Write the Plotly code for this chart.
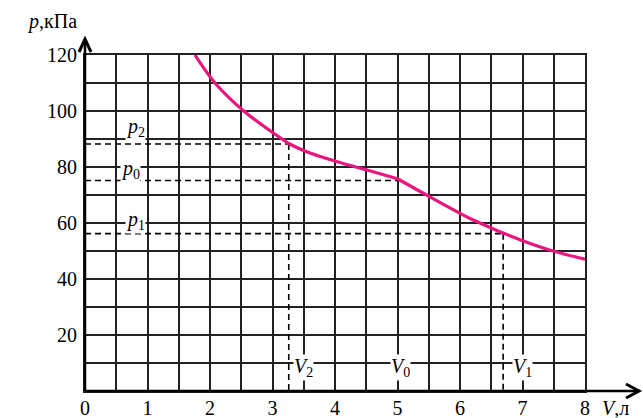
import plotly.graph_objects as go

# Curve data
V_left = [1.76, 2.08, 2.54, 3.15, 3.26, 3.6, 4.08, 4.5, 5.0]
p_left = [120, 110, 100, 90, 88.4, 85.0, 81.6, 79.0, 75.8]
V_right = [5.0, 5.52, 6.16, 6.32, 6.69, 7.0, 7.49, 8.0]
p_right = [75.8, 69.3, 61.6, 60.0, 56.4, 53.7, 50.0, 47.1]

# Marked states
state_names = ["2", "0", "1"]
V_states = [3.26, 5.0, 6.69]
p_states = [88.2, 75.2, 56.2]
dashed_vertical = [True, False, True]

x_ticks = [0, 1, 2, 3, 4, 5, 6, 7, 8]
y_ticks = [20, 40, 60, 80, 100, 120]

PINK = "#e8177d"
GRID = "#222222"
FONT = "Liberation Serif, DejaVu Serif, serif"

fig = go.Figure()

for name, V, p, vert in zip(state_names, V_states, p_states, dashed_vertical):
    fig.add_trace(go.Scatter(x=[0, V], y=[p, p], mode="lines",
                             line=dict(color="black", width=1.6, dash="6px,4px"),
                             hoverinfo="skip", showlegend=False))
    if vert:
        fig.add_trace(go.Scatter(x=[V, V], y=[p, 0], mode="lines",
                                 line=dict(color="black", width=1.6, dash="6px,4px"),
                                 hoverinfo="skip", showlegend=False))

fig.add_trace(go.Scatter(x=V_left, y=p_left, mode="lines", line_shape="spline",
                         line=dict(color=PINK, width=3.2), showlegend=False))
fig.add_trace(go.Scatter(x=V_right, y=p_right, mode="lines", line_shape="spline",
                         line=dict(color=PINK, width=3.2), showlegend=False))

# labels p_i on the left, V_i at the bottom
p_label_x = [0.8, 0.72, 0.8]
p_label_dy = [6.0, 3.8, 4.8]
for name, p, lx, dy in zip(state_names, p_states, p_label_x, p_label_dy):
    fig.add_annotation(x=lx, y=p + dy, text=f"<i>p</i><sub>{name}</sub>", showarrow=False,
                       font=dict(family=FONT, size=20, color="black"), bgcolor="white",
                       borderpad=0)
V_label_x = [3.5, 5.04, 7.0]
for name, V, lx in zip(state_names, V_states, V_label_x):
    fig.add_annotation(x=lx, y=8.5, text=f"<i>V</i><sub>{name}</sub>", showarrow=False,
                       font=dict(family=FONT, size=20, color="black"), bgcolor="white",
                       borderpad=0)

# axis titles
fig.add_annotation(xref="paper", yref="paper", x=-0.012, y=1.1, xanchor="right", yanchor="middle",
                   text="<i>p</i>,кПа", showarrow=False, font=dict(family=FONT, size=20, color="black"))
fig.add_annotation(xref="paper", yref="paper", x=1.03, y=-0.05, xanchor="left", yanchor="middle",
                   text="<i>V</i>,л", showarrow=False, font=dict(family=FONT, size=20, color="black"))

# axis lines with arrows (paper coords; plot area 500x336 px)
W, H = 500.0, 336.0
def px(dx):
    return dx / W
def py(dy):
    return dy / H

fig.add_shape(type="line", xref="paper", yref="paper", x0=0, y0=0, x1=px(553), y1=0,
              line=dict(color="black", width=2.5))
fig.add_shape(type="line", xref="paper", yref="paper", x0=0, y0=0, x1=0, y1=py(351),
              line=dict(color="black", width=2.5))
fig.add_shape(type="path", xref="paper", yref="paper",
              path=f"M {px(541)} {py(7)} L {px(554)} 0 L {px(541)} {py(-7)}",
              line=dict(color="black", width=3))
fig.add_shape(type="path", xref="paper", yref="paper",
              path=f"M {px(-6)} {py(339)} L 0 {py(352)} L {px(6)} {py(339)}",
              line=dict(color="black", width=3))

fig.update_xaxes(range=[0, 8], tickvals=x_ticks, ticktext=[str(t) for t in x_ticks],
                 showgrid=True, gridcolor=GRID, gridwidth=2,
                 minor=dict(dtick=0.5, showgrid=True, gridcolor=GRID, gridwidth=2),
                 showline=True, mirror=True, linecolor=GRID, linewidth=2,
                 zeroline=False, ticks="", ticklabelstandoff=-2, automargin=False,
                 tickfont=dict(family=FONT, size=20, color="black"), fixedrange=True)
fig.update_yaxes(range=[0, 120], tickvals=y_ticks, ticktext=[str(t) for t in y_ticks],
                 showgrid=True, gridcolor=GRID, gridwidth=2,
                 minor=dict(dtick=10, showgrid=True, gridcolor=GRID, gridwidth=2),
                 showline=True, mirror=True, linecolor=GRID, linewidth=2,
                 zeroline=False, ticks="", ticklabelstandoff=2, automargin=False,
                 tickfont=dict(family=FONT, size=20, color="black"), fixedrange=True)

fig.update_layout(width=643, height=418, margin=dict(l=85, r=58, t=55, b=27),
                  plot_bgcolor="white", paper_bgcolor="white", showlegend=False)

fig.write_html("out.html", config={"displayModeBar": False},
               post_script="document.body.style.margin='0';document.body.style.overflow='hidden';")
